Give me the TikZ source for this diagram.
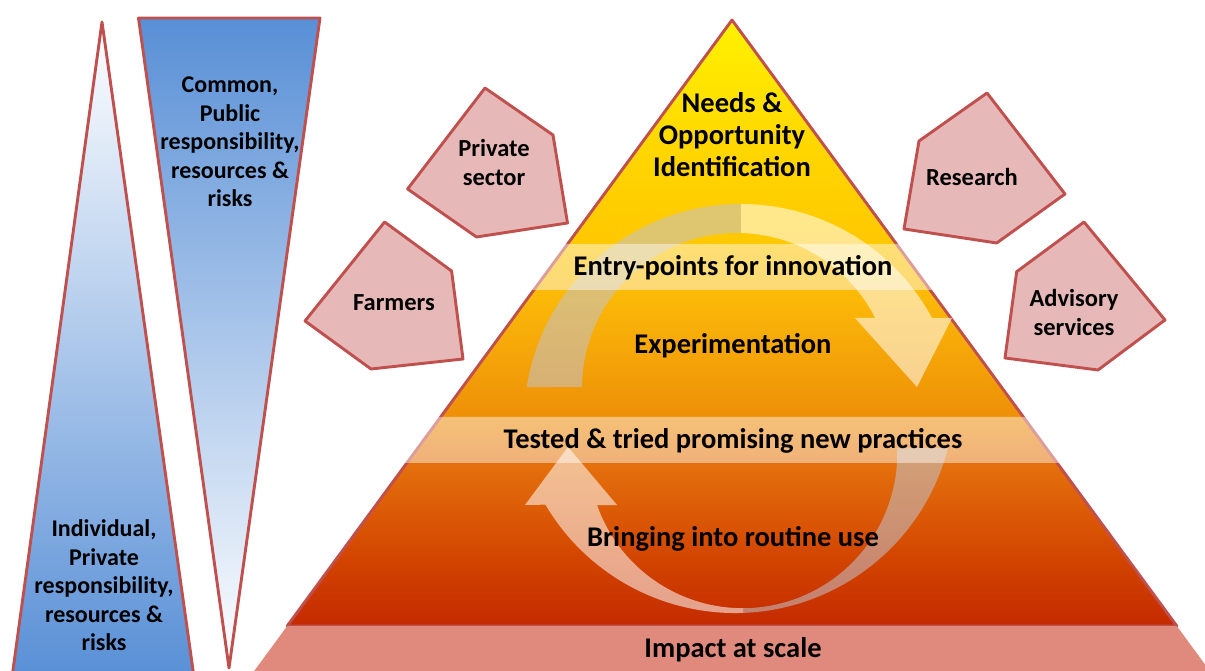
\documentclass[tikz,border=0pt]{standalone}
\usepackage{fontspec}
\setmainfont{Carlito}
\usepackage{tkz-euclide}
\definecolor{EdgeClr}{RGB}{192,80,77}
\definecolor{PentClr}{RGB}{230,185,184}
\definecolor{BlueClr}{RGB}{88,143,214}
\definecolor{ImpactClr}{RGB}{224,138,126}
\definecolor{TailClr}{RGB}{195,195,205}
\definecolor{PyrA}{RGB}{196,42,0}
\definecolor{PyrB}{RGB}{210,68,0}
\definecolor{PyrC}{RGB}{228,112,12}
\definecolor{PyrD}{RGB}{238,144,8}
\definecolor{PyrE}{RGB}{251,184,8}
\definecolor{PyrF}{RGB}{255,200,0}
\definecolor{PyrG}{RGB}{255,216,0}
\definecolor{PyrH}{RGB}{255,242,0}
\pgfdeclareverticalshading{PyrShade}{100bp}{color(0bp)=(PyrA); color(25bp)=(PyrA); color(30.4bp)=(PyrB); color(38.3bp)=(PyrC); color(42.4bp)=(PyrD); color(51.9bp)=(PyrE); color(56.8bp)=(PyrF); color(65.1bp)=(PyrG); color(75bp)=(PyrH); color(100bp)=(PyrH)}
\def\ArrowTop{(741,249) ++(171:217) arc[start angle=171,end angle=28.3,radius=217] -- (952,352) -- (917,283) -- (855,352) -- (875.2,352.1) arc[start angle=26.9,end angle=179.6,radius=155] -- cycle}
\def\ArrowBot{(735,277) ++(-14.5:220) arc[start angle=-14.5,end angle=-149.5,radius=220] -- (525,165) -- (568,223) -- (617,165) -- (597,165) arc[start angle=-160.6,end angle=2,radius=154.5] -- cycle}

\begin{document}
\begin{tikzpicture}[x=1pt,y=1pt,
  band/.style={fill=white,fill opacity=0.45},
  tailfill/.style={fill=TailClr,fill opacity=0.55},
  headfill/.style={fill=white,fill opacity=0.55},
  bigtxt/.style={font=\bfseries\fontsize{28.5}{32}\selectfont,align=center,inner sep=0pt},
  sidetxt/.style={font=\bfseries\fontsize{24}{28.5}\selectfont,align=center,inner sep=0pt},
  penttxt/.style={font=\bfseries\fontsize{24.5}{29}\selectfont,align=center,inner sep=0pt}]
\useasboundingbox (0,0) rectangle (1205,670);
\clip (0,0) rectangle (1205,670);
\tkzSetUpLine[line width=2.9pt,color=EdgeClr]

\tkzDefPoints{11.6/-10/LA,102/648/LB,194.4/-10/LC}
\tkzDefPoints{138.5/652/RA,320/652/RB,229/2/RC}
\tkzDefPoints{287.2/44/B,732/650/A,1176.8/44/C}
\tkzDefPoints{247.6/-10/ID,1216.4/-10/IC}

\tkzFillPolygon[top color=white,bottom color=BlueClr](LA,LB,LC)
\tkzDrawPolygon(LA,LB,LC)
\tkzFillPolygon[top color=BlueClr,bottom color=white](RA,RB,RC)
\tkzDrawPolygon(RA,RB,RC)

\tkzFillPolygon[shade,shading=PyrShade](A,B,C)
\tkzDrawPolygon(A,B,C)

\begin{scope}
\clip (0,0) rectangle (741,670);
\fill[tailfill] \ArrowTop;
\end{scope}
\begin{scope}
\clip (741,0) rectangle (1205,670);
\fill[headfill] \ArrowTop;
\end{scope}
\begin{scope}
\clip (0,0) rectangle (743,670);
\fill[headfill] \ArrowBot;
\end{scope}
\begin{scope}
\clip (743,0) rectangle (1205,670);
\fill[tailfill] \ArrowBot;
\end{scope}

\tkzDefPoints{564.6/426/EA,899.4/426/EB,933.2/380/EC,530.8/380/ED}
\tkzDefPoints{437.6/253/TA,1026.4/253/TB,1060.2/207/TC,403.8/207/TD}
\tkzFillPolygon[band](EA,EB,EC,ED)
\tkzFillPolygon[band](TA,TB,TC,TD)
\tkzFillPolygon[fill=ImpactClr](B,C,IC,ID)

\tkzDefPoints{485/582/PA,553/535/PB,567.5/447/PC,476.5/433/PD,407.6/481/PE}
\tkzDefPoints{384.6/448/FA,451.6/399/FB,463/311/FC,371/301/FD,305/349/FE}
\tkzDefPoints{987/577/SA,1065/476/SB,996.7/427/SC,904/441/SD,919/529/SE}
\tkzDefPoints{1084/448/VA,1165/350/VB,1098/300/VC,1005/312/VD,1016.7/398.3/VE}
\tkzDrawPolygon[fill=PentClr](PA,PB,PC,PD,PE)
\tkzDrawPolygon[fill=PentClr](FA,FB,FC,FD,FE)
\tkzDrawPolygon[fill=PentClr](SA,SB,SC,SD,SE)
\tkzDrawPolygon[fill=PentClr](VA,VB,VC,VD,VE)

\node[sidetxt] (common) at (230,528) {Common,\\Public\\responsibility,\\resources \&\\risks};
\node[sidetxt] (indiv) at (104,84.5) {Individual,\\Private\\responsibility,\\resources \&\\risks};
\node[penttxt] (private) at (494,507.5) {Private\\sector};
\node[penttxt] (farmers) at (394,367) {Farmers};
\node[penttxt] (research) at (972,493) {Research};
\node[penttxt] (advisory) at (1074,357.5) {Advisory\\services};
\node[bigtxt] (needs) at (732,535) {Needs \&\\Opportunity\\Identification};
\node[bigtxt] (entry) at (733,402) {Entry-points for innovation};
\node[bigtxt] (exper) at (733,324) {Experimentation};
\node[bigtxt] (tested) at (733,229) {Tested \& tried promising new practices};
\node[bigtxt] (routine) at (733,131) {Bringing into routine use};
\node[bigtxt] (impact) at (733,20) {Impact at scale};

\end{tikzpicture}
\end{document}
